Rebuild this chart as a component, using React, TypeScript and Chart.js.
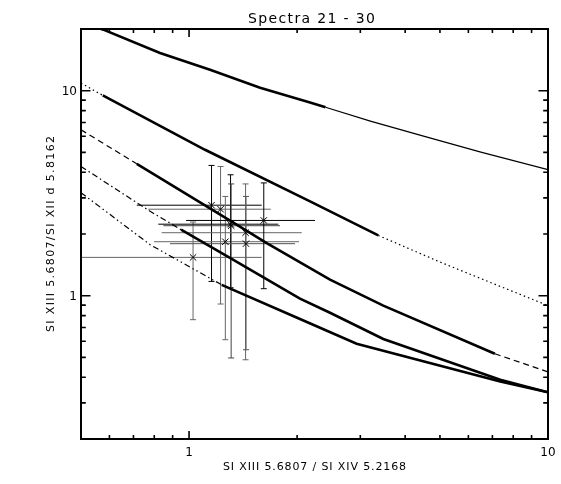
import { useEffect, useRef } from "react";
import { Chart, registerables } from "chart.js";
Chart.register(...registerables);

// ---- text ----
const chartTitle = "Spectra 21 - 30";
const xAxisTitle = "SI XIII 5.6807 / SI XIV 5.2168";
const yAxisTitle = "SI XIII 5.6807/SI XII d 5.8162";

// ---- axes ----
const xRange = [0.5, 10];
const yRange = [0.2, 20];
const xMajorTicks = [1, 10];
const xMajorLabels = ["1", "10"];
const xMinorTicks = [0.6, 0.7, 0.8, 0.9, 2, 3, 4, 5, 6, 7, 8, 9];
const yMajorTicks = [1, 10];
const yMajorLabels = ["1", "10"];
const yMinorTicks = [0.3, 0.4, 0.5, 0.6, 0.7, 0.8, 0.9, 2, 3, 4, 5, 6, 7, 8, 9];

// ---- model curves (x, y) and the x-range drawn thick ----
const curveAX = [0.5, 0.577, 0.83, 1.144, 1.577, 2.173, 2.4, 3.2, 4.5, 6.5, 10];
const curveAY = [21.7, 19.85, 15.28, 12.65, 10.34, 8.77, 8.3, 7.11, 6.0, 5.02, 4.12];
const curveASolid = [0.5, 2.4];

const curveBX = [0.5, 0.575, 1.108, 2.173, 3.367, 5.0, 7.0, 10];
const curveBY = [10.9, 9.49, 5.15, 2.884, 1.968, 1.46, 1.15, 0.895];
const curveBSolid = [0.575, 3.367];

const curveCX = [0.5, 0.715, 1.315, 1.646, 2.47, 3.477, 7.11, 10];
const curveCY = [6.45, 4.4, 2.3, 1.807, 1.197, 0.894, 0.521, 0.425];
const curveCSolid = [0.715, 7.11];

const curveDX = [0.5, 0.779, 0.95, 1.3, 2.037, 2.47, 3.477, 7.36, 10];
const curveDY = [4.27, 2.58, 2.1, 1.53, 0.967, 0.826, 0.615, 0.389, 0.338];
const curveDSolid = [0.95, 10];

const curveEX = [0.5, 0.779, 1.233, 2.037, 2.93, 7.36, 10];
const curveEY = [3.18, 1.774, 1.13, 0.77, 0.583, 0.382, 0.338];
const curveESolid = [1.233, 10];

// ---- measured ratios with error bars ----
const ptX = [1.026, 1.155, 1.224, 1.262, 1.305, 1.31, 1.437, 1.441, 1.615];
const ptY = [1.538, 2.764, 2.642, 1.834, 2.233, 2.195, 2.029, 1.794, 2.329];
const ptXLo = [0.45, 0.715, 0.77, 0.799, 0.821, 0.848, 0.839, 0.885, 0.981];
const ptXHi = [1.594, 1.594, 1.689, 2.025, 1.773, 1.793, 2.06, 1.974, 2.244];
const ptYLo = [0.764, 1.174, 0.911, 0.61, 1.094, 0.497, 0.487, 0.545, 1.082];
const ptYHi = [2.288, 4.32, 4.27, 3.05, 3.89, 3.51, 3.51, 3.05, 3.55];
const ptBarColor = ["#666", "#000", "#666", "#666", "#000", "#444", "#666", "#555", "#000"];

const FONT = "'DejaVu Sans', 'Liberation Sans', sans-serif";

function mkCurve(xs: number[], ys: number[], solid: number[], dash: number[]) {
  const eps = 1e-6;
  const isSolid = (c: any) => c.p0.parsed.x >= solid[0] - eps && c.p1.parsed.x <= solid[1] + eps;
  return {
    type: "line" as const,
    data: xs.map((x, i) => ({ x, y: ys[i] })),
    showLine: true,
    borderColor: "#000",
    borderWidth: 2.6,
    pointRadius: 0,
    tension: 0,
    fill: false,
    segment: {
      borderDash: (c: any) => (isSolid(c) ? [] : dash),
      borderWidth: (c: any) => (isSolid(c) ? 2.6 : 1.2),
    },
  };
}

function drawSpaced(ctx: CanvasRenderingContext2D, text: string, font: string, target: number, x: number, y: number) {
  ctx.font = font;
  (ctx as any).letterSpacing = "0px";
  const w = ctx.measureText(text).width;
  const ls = Math.max(0, (target - w) / Math.max(1, text.length - 1));
  (ctx as any).letterSpacing = ls + "px";
  ctx.textAlign = "center";
  ctx.textBaseline = "middle";
  ctx.fillText(text, x + ls / 2, y);
  (ctx as any).letterSpacing = "0px";
}

const framePlugin = {
  id: "idlFrame",
  beforeDatasetsDraw(chart: any) {
    const { ctx, chartArea: a, scales } = chart;
    const xs = scales.x, ys = scales.y;
    ctx.save();
    ctx.beginPath();
    ctx.rect(a.left, a.top, a.right - a.left, a.bottom - a.top);
    ctx.clip();
    ctx.lineWidth = 1;
    for (let i = 0; i < ptX.length; i++) {
      ctx.strokeStyle = ptBarColor[i];
      const px = xs.getPixelForValue(ptX[i]);
      const py = ys.getPixelForValue(ptY[i]);
      const x0 = xs.getPixelForValue(ptXLo[i]);
      const x1 = xs.getPixelForValue(ptXHi[i]);
      const y0 = ys.getPixelForValue(ptYLo[i]);
      const y1 = ys.getPixelForValue(ptYHi[i]);
      ctx.beginPath();
      ctx.moveTo(x0, py); ctx.lineTo(x1, py);
      ctx.moveTo(px, y0); ctx.lineTo(px, y1);
      ctx.moveTo(px - 3, y0); ctx.lineTo(px + 3, y0);
      ctx.moveTo(px - 3, y1); ctx.lineTo(px + 3, y1);
      ctx.stroke();
    }
    ctx.restore();
  },
  afterDraw(chart: any) {
    const { ctx, chartArea: a, scales } = chart;
    const xs = scales.x, ys = scales.y;
    ctx.save();
    ctx.strokeStyle = "#000";
    ctx.fillStyle = "#000";
    ctx.lineWidth = 2;
    ctx.strokeRect(a.left, a.top, a.right - a.left, a.bottom - a.top);
    ctx.lineWidth = 1.6;
    ctx.beginPath();
    const xt = (v: number, len: number) => {
      const p = xs.getPixelForValue(v);
      ctx.moveTo(p, a.bottom); ctx.lineTo(p, a.bottom - len);
      ctx.moveTo(p, a.top); ctx.lineTo(p, a.top + len);
    };
    const yt = (v: number, len: number) => {
      const p = ys.getPixelForValue(v);
      ctx.moveTo(a.left, p); ctx.lineTo(a.left + len, p);
      ctx.moveTo(a.right, p); ctx.lineTo(a.right - len, p);
    };
    xMajorTicks.forEach((v) => xt(v, 8));
    xMinorTicks.forEach((v) => xt(v, 4));
    yMajorTicks.forEach((v) => yt(v, 9.5));
    yMinorTicks.forEach((v) => yt(v, 4.8));
    ctx.stroke();
    ctx.font = `12px ${FONT}`;
    ctx.textBaseline = "middle";
    ctx.textAlign = "center";
    xMajorTicks.forEach((v, i) => {
      ctx.fillText(xMajorLabels[i], xs.getPixelForValue(v), a.bottom + 14);
    });
    ctx.textAlign = "right";
    yMajorTicks.forEach((v, i) => {
      ctx.fillText(yMajorLabels[i], a.left - 4, ys.getPixelForValue(v) + 1);
    });
    drawSpaced(ctx, chartTitle, `14px ${FONT}`, 127, (a.left + a.right) / 2 - 3, 19);
    drawSpaced(ctx, xAxisTitle, `11px ${FONT}`, 183, (a.left + a.right) / 2, 467);
    ctx.save();
    ctx.translate(51, (a.top + a.bottom) / 2);
    ctx.rotate(-Math.PI / 2);
    drawSpaced(ctx, yAxisTitle, `11px ${FONT}`, 196, 0, 0);
    ctx.restore();
    ctx.restore();
  },
};

export default function App() {
  const ref = useRef<HTMLCanvasElement | null>(null);
  useEffect(() => {
    if (!ref.current) return;
    const chart = new Chart(ref.current, {
      type: "scatter",
      data: {
        datasets: [
          mkCurve(curveAX, curveAY, curveASolid, []),
          mkCurve(curveBX, curveBY, curveBSolid, [1.5, 3]),
          mkCurve(curveCX, curveCY, curveCSolid, [6, 4]),
          mkCurve(curveDX, curveDY, curveDSolid, [6, 3, 1.5, 3]),
          mkCurve(curveEX, curveEY, curveESolid, [6, 3, 1.5, 3, 1.5, 3]),
          {
            type: "scatter" as const,
            data: ptX.map((x, i) => ({ x, y: ptY[i] })),
            showLine: false,
            pointStyle: "crossRot",
            pointRadius: 4.5,
            borderWidth: 1,
            borderColor: "#000",
            backgroundColor: "#000",
          },
        ] as any,
      },
      options: {
        animation: false,
        responsive: false,
        devicePixelRatio: 1,
        layout: { padding: { top: 29, right: 13, left: 0, bottom: 0 } },
        plugins: { legend: { display: false }, tooltip: { enabled: false }, title: { display: false } },
        scales: {
          x: {
            type: "logarithmic",
            min: xRange[0],
            max: xRange[1],
            grid: { display: false, drawTicks: false },
            border: { display: false },
            ticks: { display: false },
            afterFit: (s: any) => { s.height = 45; },
          },
          y: {
            type: "logarithmic",
            min: yRange[0],
            max: yRange[1],
            grid: { display: false, drawTicks: false },
            border: { display: false },
            ticks: { display: false },
            afterFit: (s: any) => { s.width = 81; },
          },
        },
      },
      plugins: [framePlugin],
    });
    return () => chart.destroy();
  }, []);
  return (
    <div style={{ position: "fixed", left: 0, top: 0, width: 561, height: 484, background: "#fff" }}>
      <canvas ref={ref} width={561} height={484} style={{ display: "block" }} />
    </div>
  );
}
